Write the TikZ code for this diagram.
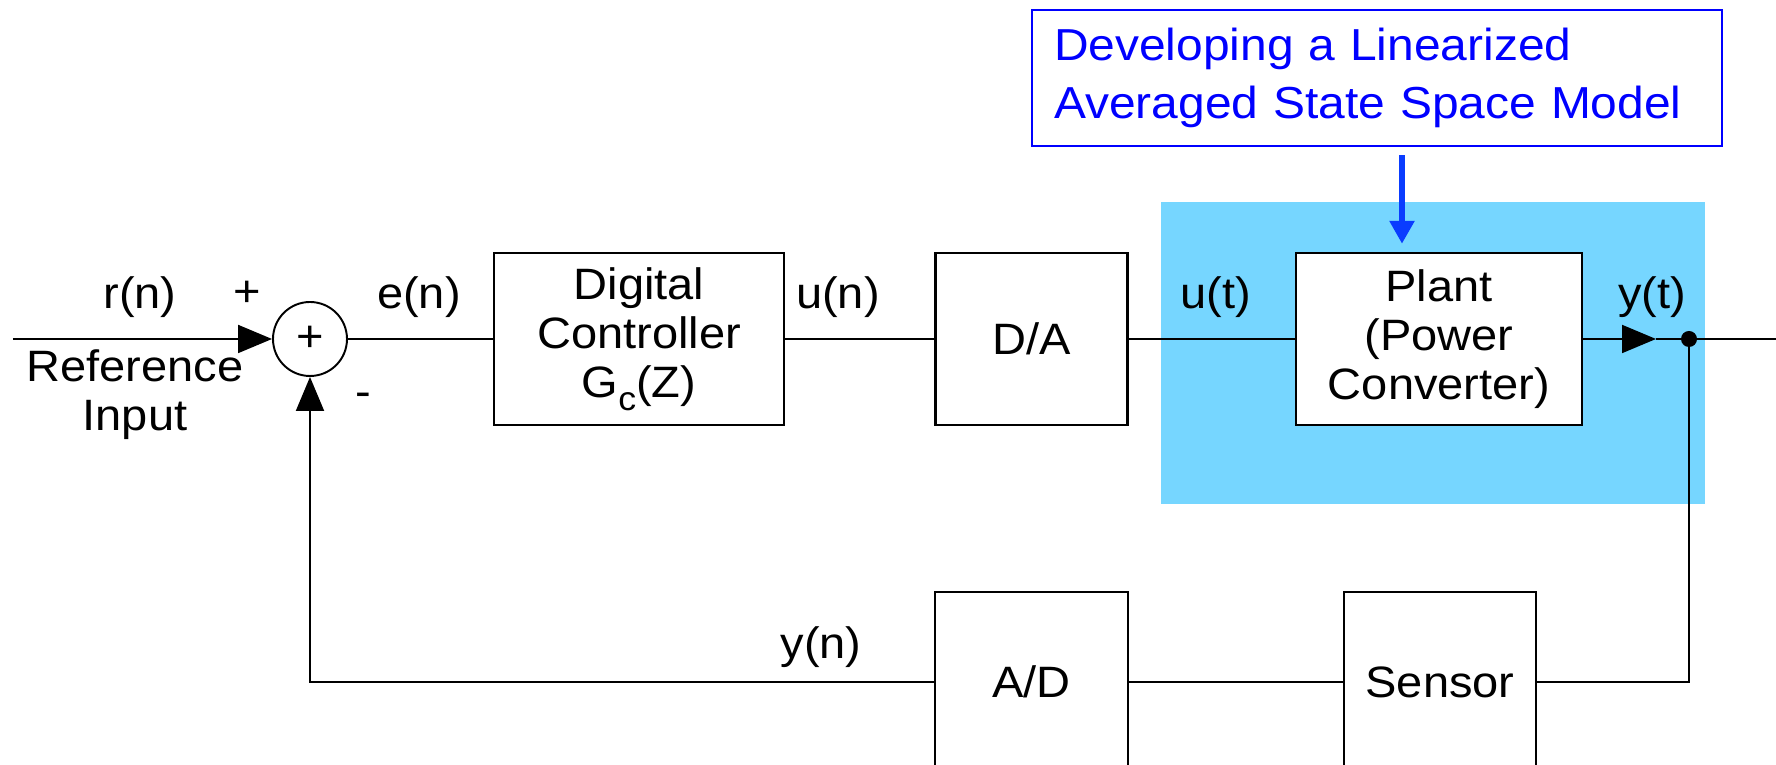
\documentclass[tikz,border=0pt]{standalone}
\usepackage{fontspec}
\setmainfont{Liberation Sans}[FakeStretch=1.07]
\usepackage{tikz}
\usetikzlibrary{arrows.meta,positioning,calc}
\definecolor{noteblu}{HTML}{0000FF}
\definecolor{arrowblu}{HTML}{0A3CFF}
\definecolor{skyhi}{HTML}{76D6FF}

\begin{document}
\begin{tikzpicture}[>={Triangle[length=0.68cm,width=0.56cm]},line width=1.1pt,
  every node/.style={font=\fontsize{25}{27.8}\selectfont},
  blk/.style={draw,fill=white,line width=1.4pt,minimum height=3.44cm,align=center,inner sep=0pt},
  sig/.style={inner sep=0pt}]
\useasboundingbox (0,0) rectangle (35.52,15.3);
% ---------- highlighted plant region ----------
\fill[skyhi] (23.22,5.22) rectangle (34.1,11.26);
% ---------- forward path ----------
\coordinate (rin) at (0.26,8.52);
\node[circle,draw,fill=white,minimum size=1.48cm,inner sep=0pt] (sum) at (6.2,8.52) {+};
\node[blk,minimum width=5.8cm] (ctrl) at (12.78,8.52)
  {Digital\\Controller\\G\raisebox{-0.26cm}{\fontsize{19}{19}\selectfont c}(Z)};
\node[blk,minimum width=3.84cm] (da) at (20.63,8.52) {D/A};
\node[blk,minimum width=5.72cm] (plant) at (28.78,8.52) {Plant\\(Power\\Converter)};
\coordinate (ytip) at (33.12,8.52);
\coordinate (tap) at (33.78,8.52);
\coordinate (yout) at (35.52,8.52);
\draw[->] (rin) -- (sum);
\draw (sum) -- (ctrl);
\draw (ctrl) -- (da);
\draw (da) -- (plant);
\draw[->] (plant) -- (ytip);
\draw (ytip) -- (yout);
\fill (tap) circle (0.16);
% ---------- feedback path ----------
\coordinate (fb) at (33.78,1.66);
\node[blk,minimum width=3.84cm,minimum height=3.6cm] (sens) at (28.8,1.66) {Sensor};
\node[blk,minimum width=3.86cm,minimum height=3.6cm] (ad) at (20.63,1.66) {A/D};
\draw (tap) -- (fb) -- (sens);
\draw (sens) -- (ad);
\draw[->] (ad) -| (sum);
% signal labels
\node[sig] (rlab) at (2.8,9.36) {r(n)};
\node[sig] (plus) at (4.94,9.42) {+};
\node[sig,align=center] (refin) at (2.7,7.4) {Reference\\Input};
\node[sig] (minus) at (7.26,7.3) {-};
\node[sig] (elab) at (8.38,9.36) {e(n)};
\node[sig] (unlab) at (16.76,9.36) {u(n)};
\node[sig] (utlab) at (24.32,9.36) {u(t)};
\node[sig] (ytlab) at (33.04,9.36) {y(t)};
\node[sig] (ynlab) at (16.42,2.36) {y(n)};
% ---------- annotation ----------
\node[draw=noteblu,line width=1.2pt,fill=white,text=noteblu,align=left,text width=12.92cm,
  inner xsep=0.44cm,minimum height=2.72cm,font=\fontsize{25.5}{32.9}\selectfont]
  (note) at (27.54,13.74) {Developing a Linearized\\Averaged State Space Model};
\coordinate (aim) at ([xshift=-0.74cm,yshift=0.16cm]plant.north);
\draw[arrowblu,line width=3.4pt,-{Triangle[length=0.46cm,width=0.48cm]},shorten <=0.16cm]
  (note.south -| aim) -- (aim);
\end{tikzpicture}
\end{document}
